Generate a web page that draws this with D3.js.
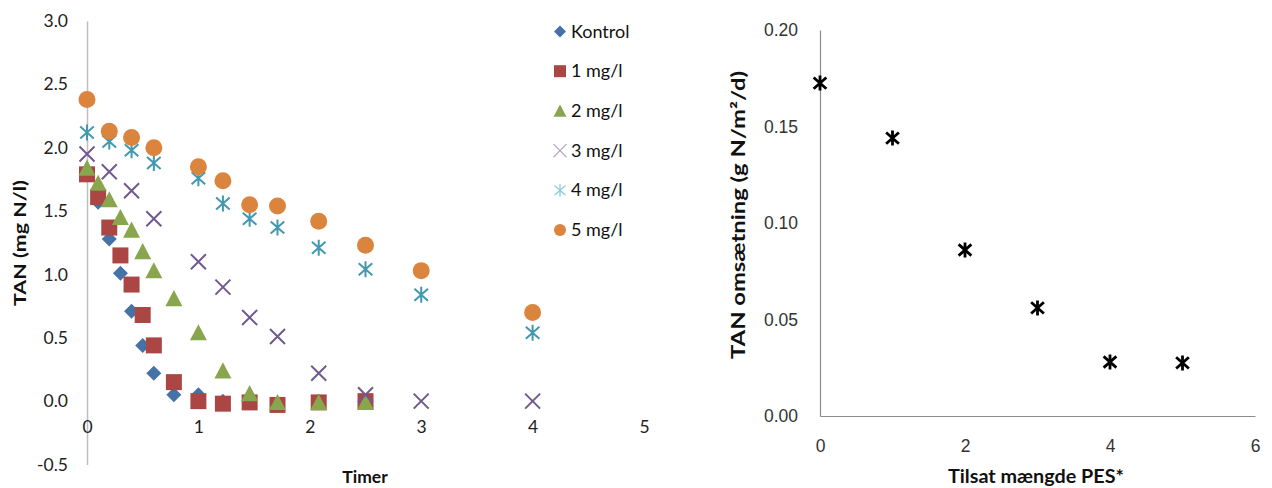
<!DOCTYPE html>
<html><head><meta charset="utf-8">
<script src="https://cdn.jsdelivr.net/npm/d3@7"></script>
<style>
body{margin:0;background:#fff;}
svg{display:block;font-family:Lato,"Open Sans",sans-serif;}
</style></head>
<body><svg id="c" width="1272" height="488"></svg>
<script>
// ---- data ----
const times = [0, 0.1, 0.2, 0.3, 0.4, 0.5, 0.6, 0.78, 1.0, 1.22, 1.46, 1.71, 2.08, 2.5, 3.0, 4.0];
const seriesNames = ["Kontrol", "1 mg/l", "2 mg/l", "3 mg/l", "4 mg/l", "5 mg/l"];
const kontrol = [1.80, 1.57, 1.28, 1.01, 0.71, 0.44, 0.22, 0.05, 0.05, 0.0, null, null, 0.0, 0.0, null, null];
const mg1 = [1.79, 1.61, 1.37, 1.15, 0.92, 0.68, 0.44, 0.15, 0.0, -0.02, -0.01, -0.03, -0.01, 0.0, null, null];
const mg2 = [1.84, 1.72, 1.59, 1.45, 1.35, 1.18, 1.03, 0.81, 0.54, 0.24, 0.06, -0.01, -0.01, -0.01, null, null];
const mg3 = [1.95, null, 1.81, null, 1.66, null, 1.44, null, 1.10, 0.90, 0.66, 0.51, 0.22, 0.05, 0.0, 0.0];
const mg4 = [2.12, null, 2.05, null, 1.98, null, 1.88, null, 1.76, 1.56, 1.44, 1.37, 1.21, 1.04, 0.84, 0.54];
const mg5 = [2.38, null, 2.13, null, 2.08, null, 2.00, null, 1.85, 1.74, 1.55, 1.54, 1.42, 1.23, 1.03, 0.70];
const leftYTicks = [-0.5, 0, 0.5, 1.0, 1.5, 2.0, 2.5, 3.0];
const leftXTicks = [0, 1, 2, 3, 4, 5];

const pesDose = [0, 1, 2, 3, 4, 5];
const tanRate = [0.1725, 0.144, 0.086, 0.056, 0.028, 0.0275];
const rightYTicks = [0, 0.05, 0.10, 0.15, 0.20];
const rightXTicks = [0, 2, 4, 6];

// ---- styles ----
const colors = ["#4572A7", "#AA4643", "#89A54E", "#71588F", "#4198AF", "#DB843D"];
const shapes = ["diamond", "square", "triangle", "x", "star", "circle"];
const allSeries = [kontrol, mg1, mg2, mg3, mg4, mg5];

const svg = d3.select("#c");
const fmt1 = v => d3.format(".1f")(v).replace("\u2212", "-");

function markerPath(shape, s) {
  switch (shape) {
    case "diamond": return `M0,${-s}L${s},0L0,${s}L${-s},0Z`;
    case "square": return `M${-s},${-s}H${s}V${s}H${-s}Z`;
    case "triangle": return `M0,${-s}L${s},${s*0.9}L${-s},${s*0.9}Z`;
    case "circle": return d3.symbol(d3.symbolCircle, Math.PI * s * s)();
    case "x": return `M${-s},${-s}L${s},${s}M${-s},${s}L${s},${-s}`;
    case "star": return `M${-s*0.85},${-s*0.75}L${s*0.85},${s*0.75}M${-s*0.85},${s*0.75}L${s*0.85},${-s*0.75}M0,${-s}V${s}`;
  }
}
function styleMarker(sel, shape, color, sw) {
  if (shape === "x" || shape === "star") {
    sel.attr("fill", "none").attr("stroke", color).attr("stroke-width", sw);
  } else {
    sel.attr("fill", color).attr("stroke", "none");
  }
}

// ---- left chart ----
const xL = d3.scaleLinear().domain([0, 5]).range([87, 644]);
const yL = d3.scaleLinear().domain([-0.5, 3]).range([464.5, 21]);

const gyL = svg.append("g").attr("transform", `translate(${xL(0)},0)`)
  .call(d3.axisLeft(yL).tickValues(leftYTicks).tickFormat(fmt1).tickSize(0).tickPadding(19));
gyL.select(".domain").attr("stroke", "#BFBFBF").attr("stroke-width", 1.5);
gyL.selectAll("text").attr("font-size", 17.5).attr("fill", "#222").attr("font-family", "Lato");

const gxL = svg.append("g").attr("transform", `translate(0,${yL(0)})`)
  .call(d3.axisBottom(xL).tickValues(leftXTicks).tickFormat(d3.format("d")).tickSize(0).tickPadding(19));
gxL.select(".domain").remove();
gxL.selectAll("text").attr("font-size", 17.5).attr("fill", "#222").attr("font-family", "Lato");

const markerSize = [7.5, 8, 8.5, 7.5, 8, 8.5];
allSeries.forEach((vals, i) => {
  const pts = times.map((t, j) => ({t, v: vals[j]})).filter(d => d.v !== null);
  const g = svg.append("g");
  g.selectAll("path").data(pts).join("path")
    .attr("transform", d => `translate(${xL(d.t)},${yL(d.v)})`)
    .attr("d", markerPath(shapes[i], markerSize[i]))
    .call(styleMarker, shapes[i], colors[i], 2);
});

// legend
const legend = svg.append("g");
seriesNames.forEach((name, i) => {
  const y = 31.5 + i * 39.7;
  const lsz = [6, 6, 6.5, 6.5, 6.5, 6][i];
  legend.append("path").attr("transform", `translate(560,${y})`)
    .attr("d", markerPath(shapes[i], lsz))
    .call(styleMarker, shapes[i], shapes[i] === "x" ? "#B3A2C7" : (shapes[i] === "star" ? "#93CDDD" : colors[i]), 1.3);
  legend.append("text").attr("x", 571).attr("y", y + 6).attr("font-size", 18).attr("fill", "#111").text(name);
});

svg.append("text").attr("x", 365).attr("y", 483).attr("text-anchor", "middle")
  .attr("font-size", 17.5).attr("font-weight", "bold").attr("fill", "#111").text("Timer");
svg.append("text").attr("transform", "translate(26,243) rotate(-90)").attr("text-anchor", "middle")
  .attr("font-size", 17.5).attr("font-weight", "bold").attr("fill", "#111")
  .attr("textLength", 126).attr("lengthAdjust", "spacingAndGlyphs").text("TAN (mg N/l)");

// ---- right chart ----
const xR = d3.scaleLinear().domain([0, 6]).range([820, 1255]);
const yR = d3.scaleLinear().domain([0, 0.2]).range([416, 30]);

const gyR = svg.append("g").attr("transform", `translate(${xR(0)},0)`)
  .call(d3.axisLeft(yR).tickValues(rightYTicks).tickFormat(d3.format(".2f")).tickSize(0).tickPadding(22));
gyR.select(".domain").attr("stroke", "#8C8C8C").attr("stroke-width", 1.2);
gyR.selectAll("text").attr("font-size", 17.5).attr("fill", "#333");

const gxR = svg.append("g").attr("transform", `translate(0,${yR(0)})`)
  .call(d3.axisBottom(xR).tickValues(rightXTicks).tickFormat(d3.format("d")).tickSize(0).tickPadding(24));
gxR.select(".domain").attr("stroke", "#8C8C8C").attr("stroke-width", 1.2);
gxR.selectAll("text").attr("font-size", 17.5).attr("fill", "#333");

svg.append("g").selectAll("path").data(pesDose.map((d, i) => ({x: d, y: tanRate[i]}))).join("path")
  .attr("transform", d => `translate(${xR(d.x)},${yR(d.y)})`)
  .attr("d", markerPath("star", 7.5))
  .attr("fill", "none").attr("stroke", "#000").attr("stroke-width", 2.8);

svg.append("text").attr("x", 1036).attr("y", 483).attr("text-anchor", "middle")
  .attr("font-size", 18).attr("font-weight", "bold").attr("fill", "#111")
  .attr("textLength", 176).attr("lengthAdjust", "spacingAndGlyphs").text("Tilsat mængde PES*");
svg.append("text").attr("transform", "translate(745,215) rotate(-90)").attr("text-anchor", "middle")
  .attr("font-size", 18).attr("font-weight", "bold").attr("fill", "#111")
  .attr("textLength", 288).attr("lengthAdjust", "spacingAndGlyphs").text("TAN omsætning (g N/m²/d)");
</script></body></html>
